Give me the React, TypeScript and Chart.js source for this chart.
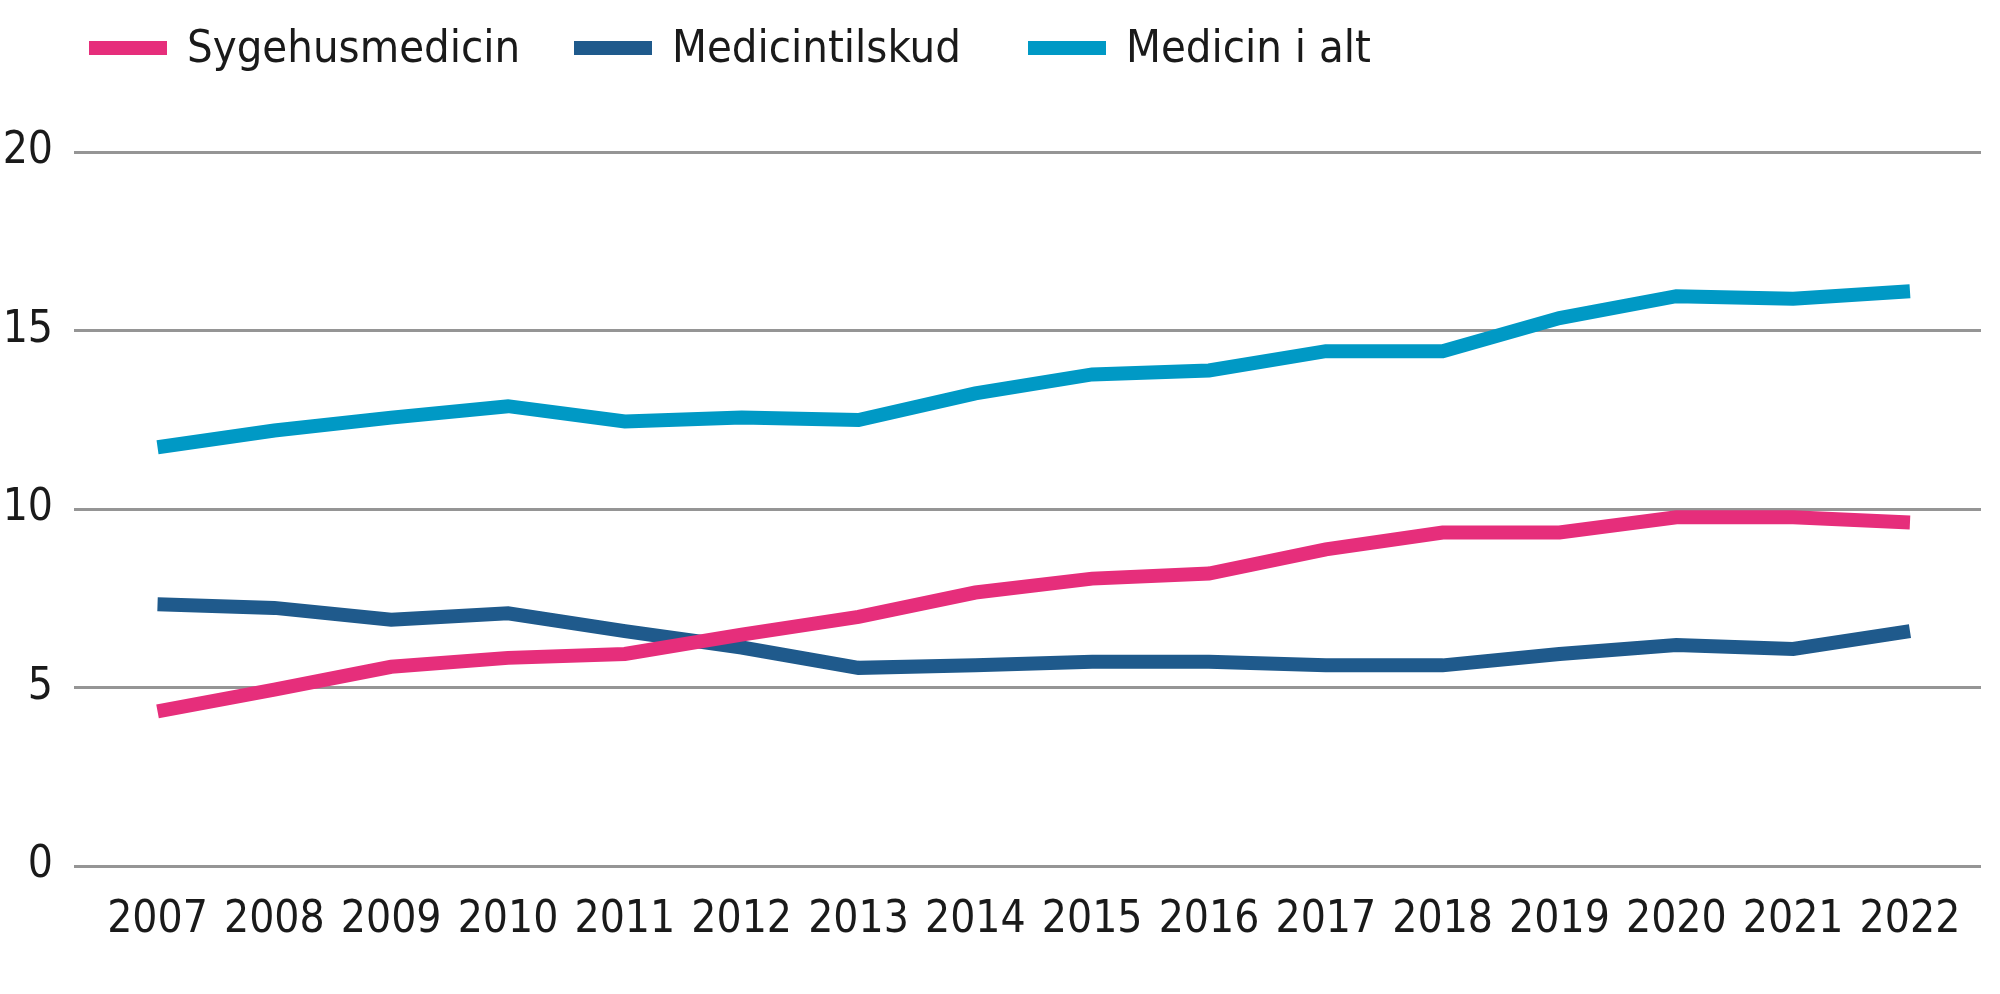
import React, { useEffect, useRef } from "react";
import { Chart, registerables } from "chart.js";

Chart.register(...registerables);

const years = [2007, 2008, 2009, 2010, 2011, 2012, 2013, 2014, 2015, 2016, 2017, 2018, 2019, 2020, 2021, 2022];
const sygehusmedicin = [4.33, 4.94, 5.58, 5.83, 5.94, 6.48, 6.98, 7.66, 8.05, 8.19, 8.87, 9.34, 9.34, 9.77, 9.77, 9.62];
const medicintilskud = [7.33, 7.23, 6.9, 7.08, 6.58, 6.12, 5.55, 5.62, 5.72, 5.72, 5.62, 5.62, 5.94, 6.19, 6.08, 6.58];
const medicinIAlt = [11.73, 12.2, 12.56, 12.88, 12.45, 12.56, 12.49, 13.24, 13.77, 13.88, 14.42, 14.42, 15.35, 15.96, 15.89, 16.1];
const seriesLabels = ["Sygehusmedicin", "Medicintilskud", "Medicin i alt"];
const seriesColors = ["#E62E7B", "#1F5A8C", "#0099C5"];
const yTicks = [0, 5, 10, 15, 20];
const legendItemX = [89, 574, 1028];

const FONT = '"Liberation Sans Narrow", "Arial Narrow", "DejaVu Sans Condensed", sans-serif';
const TEXT_COLOR = "#1a1a1a";

const legendPlugin = {
  id: "topLegend",
  afterDraw(chart: any) {
    const ctx = chart.ctx;
    ctx.save();
    ctx.font = `45px ${FONT}`;
    ctx.textBaseline = "middle";
    ctx.textAlign = "left";
    const cy = 48;
    chart.data.datasets.forEach((ds: any, i: number) => {
      const x = legendItemX[i];
      ctx.fillStyle = ds.borderColor;
      ctx.fillRect(x, cy - 7, 78, 14);
      ctx.fillStyle = TEXT_COLOR;
      ctx.fillText(ds.label, x + 98, cy + 2);
    });
    ctx.restore();
  },
};

export default function App() {
  const canvasRef = useRef<HTMLCanvasElement | null>(null);

  useEffect(() => {
    if (!canvasRef.current) return;
    const series = [sygehusmedicin, medicintilskud, medicinIAlt];
    const chart = new Chart(canvasRef.current, {
      type: "line",
      data: {
        datasets: series.map((vals, i) => ({
          label: seriesLabels[i],
          data: vals.map((v, j) => ({ x: years[j], y: v })),
          borderColor: seriesColors[i],
          backgroundColor: seriesColors[i],
          borderWidth: 14,
          pointRadius: 0,
          pointHoverRadius: 0,
          tension: 0,
          borderCapStyle: "butt",
          borderJoinStyle: "miter",
        })),
      },
      options: {
        animation: false,
        responsive: false,
        maintainAspectRatio: false,
        devicePixelRatio: 1,
        layout: { padding: { top: 152, right: 19, bottom: 0, left: 0 } },
        plugins: {
          legend: { display: false },
          tooltip: { enabled: false },
        },
        scales: {
          x: {
            type: "linear",
            min: 2006.285,
            max: 2022.608,
            afterBuildTicks: (scale: any) => {
              scale.ticks = years.map((y) => ({ value: y }));
            },
            ticks: {
              autoSkip: false,
              maxRotation: 0,
              padding: 28,
              color: TEXT_COLOR,
              font: { family: FONT, size: 44 },
              callback: (v: any) => String(v),
            },
            grid: { display: false, drawTicks: false },
            border: { display: false },
            afterFit: (scale: any) => {
              scale.height = 128;
            },
          },
          y: {
            min: 0,
            max: 20,
            afterBuildTicks: (scale: any) => {
              scale.ticks = yTicks.map((v) => ({ value: v }));
            },
            ticks: {
              padding: 21,
              color: TEXT_COLOR,
              font: { family: FONT, size: 44 },
              callback: (v: any) => String(v),
            },
            grid: { color: "#959595", lineWidth: 3, drawTicks: false },
            border: { display: false },
            afterFit: (scale: any) => {
              scale.width = 74;
            },
          },
        },
      },
      plugins: [legendPlugin],
    });
    return () => chart.destroy();
  }, []);

  return (
    <div style={{ position: "fixed", left: 0, top: 0, width: 2000, height: 994, background: "#fff" }}>
      <canvas ref={canvasRef} width={2000} height={994} style={{ width: 2000, height: 994, display: "block" }} />
    </div>
  );
}
